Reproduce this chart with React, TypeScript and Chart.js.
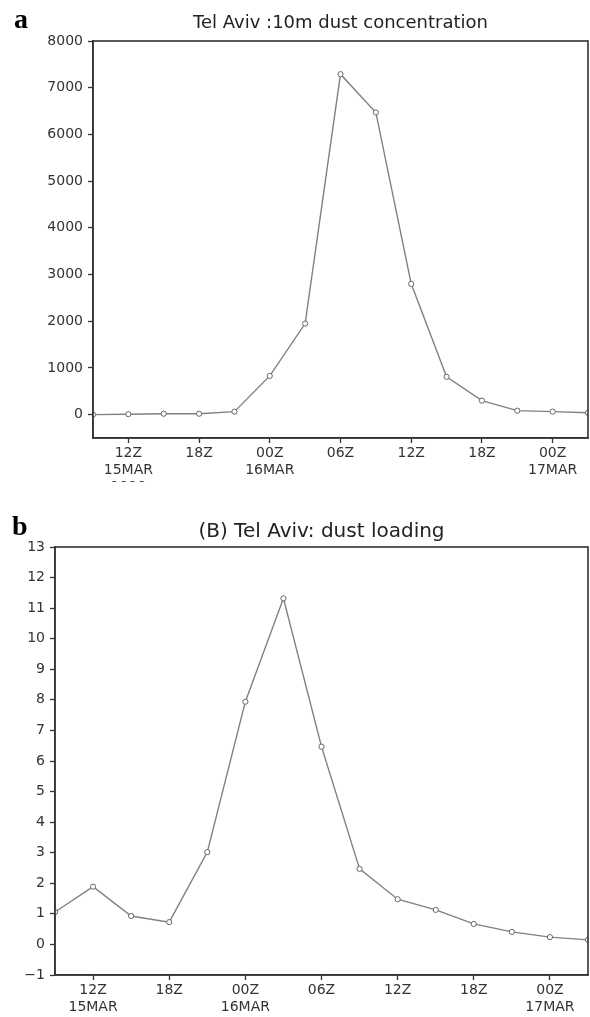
import React, { useEffect, useRef } from 'react';
import { Chart, registerables } from 'chart.js';

Chart.register(...registerables);

// 3-hourly time steps, 09Z 15 MAR 1998 .. 03Z 17 MAR 1998
const timeSteps = [
  '09Z 15MAR', '12Z 15MAR', '15Z 15MAR', '18Z 15MAR', '21Z 15MAR',
  '00Z 16MAR', '03Z 16MAR', '06Z 16MAR', '09Z 16MAR', '12Z 16MAR',
  '15Z 16MAR', '18Z 16MAR', '21Z 16MAR', '00Z 17MAR', '03Z 17MAR',
];
const concentration = [0, 10, 20, 20, 64, 830, 1950, 7290, 6470, 2800, 810, 300, 85, 64, 40];
const loading = [1.06, 1.89, 0.93, 0.73, 3.02, 7.94, 11.32, 6.47, 2.47, 1.48, 1.13, 0.67, 0.41, 0.24, 0.15];

const xTickPositions = [1, 3, 5, 7, 9, 11, 13];
const xTickLabelsA: (string | string[])[] = [['12Z', '15MAR', '1998'], '18Z', ['00Z', '16MAR'], '06Z', '12Z', '18Z', ['00Z', '17MAR']];
const xTickLabelsB: (string | string[])[] = [['12Z', '15MAR'], '18Z', ['00Z', '16MAR'], '06Z', '12Z', '18Z', ['00Z', '17MAR']];
const yTicksA = [0, 1000, 2000, 3000, 4000, 5000, 6000, 7000, 8000];
const yTicksB = [-1, 0, 1, 2, 3, 4, 5, 6, 7, 8, 9, 10, 11, 12, 13];

const AXIS = '#333';
const LINE = '#808080';
const FONT = 'DejaVu Sans';

const framePlugin = {
  id: 'frame',
  afterDraw(chart: any) {
    const { ctx, chartArea: a } = chart;
    ctx.save();
    ctx.strokeStyle = AXIS;
    ctx.lineWidth = 1.6;
    ctx.strokeRect(a.left, a.top, a.right - a.left, a.bottom - a.top);
    ctx.restore();
  },
};

type PanelProps = {
  top: number;
  height: number;
  title: string;
  titleSize: number;
  titleCenter: number;
  plotTop: number;
  plotBottom: number;
  plotLeft: number;
  values: number[];
  yMin: number;
  yMax: number;
  yTicks: number[];
  xLabels: (string | string[])[];
};

function Panel(p: PanelProps) {
  const ref = useRef<HTMLCanvasElement | null>(null);
  useEffect(() => {
    if (!ref.current) return;
    const lh = Math.round(p.titleSize * 1.2);
    const padTop = p.titleCenter - lh / 2;
    const padBottom = p.plotTop - padTop - lh;
    const chart = new Chart(ref.current, {
      type: 'line',
      data: {
        labels: timeSteps,
        datasets: [
          {
            data: p.values.map((v, i) => ({ x: i, y: v })),
            borderColor: LINE,
            borderWidth: 1.4,
            pointRadius: 2.6,
            pointBorderWidth: 1,
            pointBorderColor: '#666',
            pointBackgroundColor: '#ffffff',
            tension: 0,
            fill: false,
          },
        ],
      },
      options: {
        responsive: false,
        animation: false,
        layout: { autoPadding: false, padding: { left: 0, right: 2, top: 0, bottom: 0 } },
        plugins: {
          legend: { display: false },
          tooltip: { enabled: false },
          title: {
            display: true,
            text: p.title,
            fullSize: false,
            color: '#222',
            font: { family: FONT, size: p.titleSize, weight: 'normal', lineHeight: lh / p.titleSize },
            padding: { top: padTop, bottom: padBottom },
          },
        },
        scales: {
          x: {
            type: 'linear',
            min: 0,
            max: timeSteps.length - 1,
            afterBuildTicks: (scale: any) => {
              scale.ticks = xTickPositions.map((v) => ({ value: v }));
            },
            afterFit: (scale: any) => {
              scale.height = p.height - p.plotBottom;
            },
            grid: { drawOnChartArea: false, drawTicks: true, tickLength: 5, color: AXIS, tickWidth: 1.3 },
            border: { display: true, color: AXIS, width: 1.6 },
            ticks: {
              autoSkip: false,
              maxRotation: 0,
              padding: 2,
              color: '#333',
              font: { family: FONT, size: 14, lineHeight: 1.2 },
              callback: (v: any) => {
                const idx = xTickPositions.indexOf(Number(v));
                return idx >= 0 ? p.xLabels[idx] : '';
              },
            },
          },
          y: {
            type: 'linear',
            min: p.yMin,
            max: p.yMax,
            afterBuildTicks: (scale: any) => {
              scale.ticks = p.yTicks.map((v) => ({ value: v }));
            },
            afterFit: (scale: any) => {
              scale.width = p.plotLeft;
            },
            grid: { drawOnChartArea: false, drawTicks: true, tickLength: 5, color: AXIS, tickWidth: 1.3 },
            border: { display: true, color: AXIS, width: 1.6 },
            ticks: {
              autoSkip: false,
              padding: 5,
              color: '#333',
              font: { family: FONT, size: 14 },
              callback: (v: any) => (Number(v) < 0 ? '\u2212' + Math.abs(Number(v)) : String(v)),
            },
          },
        },
      },
      plugins: [framePlugin],
    } as any);
    return () => chart.destroy();
  }, []);
  return (
    <canvas
      ref={ref}
      width={590}
      height={p.height}
      style={{ position: 'absolute', left: 0, top: p.top, width: 590, height: p.height, display: 'block' }}
    />
  );
}

const letterStyle: React.CSSProperties = {
  position: 'absolute',
  fontFamily: '"Liberation Serif", serif',
  fontWeight: 'bold',
  fontSize: 28,
  lineHeight: '28px',
  color: '#000',
};

export default function App() {
  return (
    <div style={{ position: 'absolute', left: 0, top: 0, width: 590, height: 1017, background: '#fff', overflow: 'hidden' }}>
      <Panel
        top={0}
        height={482}
        title="Tel Aviv :10m dust concentration"
        titleSize={18}
        titleCenter={23}
        plotTop={41}
        plotBottom={438}
        plotLeft={93}
        values={concentration}
        yMin={-500}
        yMax={8000}
        yTicks={yTicksA}
        xLabels={xTickLabelsA}
      />
      <Panel
        top={483}
        height={534}
        title="(B) Tel Aviv: dust loading"
        titleSize={20}
        titleCenter={49}
        plotTop={64}
        plotBottom={492}
        plotLeft={55}
        values={loading}
        yMin={-1}
        yMax={13}
        yTicks={yTicksB}
        xLabels={xTickLabelsB}
      />
      <span style={{ ...letterStyle, left: 14, top: 5 }}>a</span>
      <span style={{ ...letterStyle, left: 12, top: 512 }}>b</span>
    </div>
  );
}
